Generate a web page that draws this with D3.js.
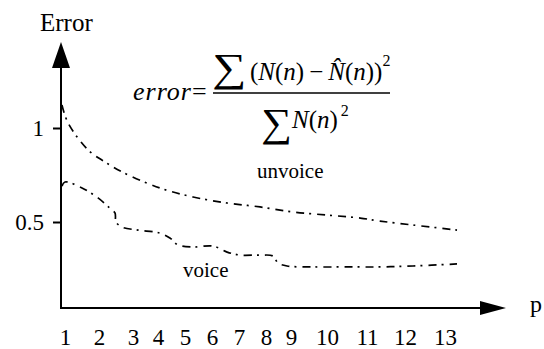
<!DOCTYPE html>
<html>
<head>
<meta charset="utf-8">
<script src="https://cdn.jsdelivr.net/npm/d3@7"></script>
<style>
  body { margin: 0; background: #fff; }
  svg { display: block; }
  svg text { font-family: "Liberation Serif", "Times New Roman", Times, "DejaVu Serif", serif; fill: #000; }
</style>
</head>
<body>
<svg width="544" height="349"></svg>
<script>
// tick labels on the p axis
const pTicks = [1, 2, 3, 4, 5, 6, 7, 8, 9, 10, 11, 12, 13];
const errTicks = [0.5, 1];

// unvoice curve
const unvoiceP   = [0.91, 1.09, 1.68, 2.18, 2.68, 4.07, 5.3, 6.56, 7.78, 9.06, 10.0, 10.83, 11.34, 12.2, 13.3];
const unvoiceErr = [1.122, 1.027, 0.883, 0.819, 0.766, 0.681, 0.633, 0.601, 0.58, 0.553, 0.537, 0.521, 0.505, 0.484, 0.457];

// voice curve
const voiceP   = [0.91, 1.0, 1.5, 1.97, 2.32, 2.47, 2.5, 2.68, 3.2, 4.07, 4.44, 4.74, 5.3, 6.04, 6.56, 7.04, 7.78, 8.28, 8.48, 8.84, 9.61, 10.5, 11.34, 12.2, 13.3];
const voiceErr = [0.691, 0.713, 0.681, 0.628, 0.574, 0.548, 0.5, 0.473, 0.457, 0.441, 0.415, 0.378, 0.367, 0.372, 0.34, 0.324, 0.324, 0.319, 0.282, 0.266, 0.261, 0.261, 0.261, 0.266, 0.277];

const svg = d3.select('svg');

// the hand drawn figure spaces its p labels unevenly
const tickPos = [65, 99, 133, 158, 185, 212, 239, 266, 291, 327, 367, 405, 445];
const xScale = d3.scaleLinear().domain(pTicks).range(tickPos);
const yScale = d3.scaleLinear().domain([0, 1]).range([316, 128]);

const originX = 61, originY = 308;

// curves
const line = d3.line()
  .x(d => xScale(d[0]))
  .y(d => yScale(d[1]))
  .curve(d3.curveCatmullRom.alpha(0.5));

const series = [
  d3.zip(unvoiceP, unvoiceErr),
  d3.zip(voiceP, voiceErr)
];

svg.selectAll('.curve').data(series)
  .enter().append('path')
    .attr('class', 'curve')
    .attr('d', line)
    .attr('fill', 'none')
    .attr('stroke', '#000')
    .attr('stroke-width', 1.7)
    .attr('stroke-dasharray', '8,5,2,6');

// y axis
const yAxisG = svg.append('g')
  .attr('transform', `translate(${originX},0)`)
  .call(d3.axisLeft(yScale)
    .tickValues(errTicks)
    .tickSize(8)
    .tickPadding(9)
    .tickFormat(d3.format('')));
yAxisG.select('.domain').remove();
yAxisG.selectAll('.tick line').attr('stroke', '#000').attr('stroke-width', 2);
yAxisG.selectAll('.tick text')
  .attr('font-size', 23)
  .attr('dy', '0.33em');

// x axis labels, no tick marks
const xAxisG = svg.append('g')
  .attr('transform', `translate(0,${originY})`)
  .call(d3.axisBottom(xScale).tickValues(pTicks).tickSize(0).tickPadding(21));
xAxisG.select('.domain').remove();
xAxisG.selectAll('.tick text')
  .attr('font-size', 23);

// axis lines with arrow heads
svg.append('line')
  .attr('x1', originX).attr('y1', originY + 1)
  .attr('x2', originX).attr('y2', 66)
  .attr('stroke', '#000').attr('stroke-width', 2);
svg.append('path')
  .attr('d', `M${originX},42 L${originX - 9},68 L${originX + 9},68 Z`)
  .attr('fill', '#000');

svg.append('line')
  .attr('x1', originX - 1).attr('y1', originY)
  .attr('x2', 482).attr('y2', originY)
  .attr('stroke', '#000').attr('stroke-width', 2);
svg.append('path')
  .attr('d', `M506,${originY} L480,${originY - 7} L480,${originY + 7} Z`)
  .attr('fill', '#000');

// axis titles
svg.append('text').attr('x', 40).attr('y', 31)
  .attr('font-size', 25).text('Error');
svg.append('text').attr('x', 530).attr('y', 312)
  .attr('font-size', 24).text('p');

// curve labels
svg.append('text').attr('x', 257).attr('y', 178)
  .attr('font-size', 21).text('unvoice');
svg.append('text').attr('x', 183).attr('y', 277)
  .attr('font-size', 21).text('voice');

// formula
const f = svg.append('g').attr('class', 'formula');
f.append('text').attr('x', 133).attr('y', 100)
  .attr('font-size', 26).attr('font-style', 'italic')
  .attr('letter-spacing', 1)
  .text('error');
f.append('text').attr('x', 192).attr('y', 100)
  .attr('font-size', 26).text('=');
f.append('line')
  .attr('x1', 213).attr('x2', 390).attr('y1', 93).attr('y2', 93)
  .attr('stroke', '#000').attr('stroke-width', 1.3);

// numerator
f.append('text').attr('x', 212).attr('y', 81)
  .attr('font-size', 40).attr('transform', 'translate(212,81) scale(1.2,1) translate(-212,-81)')
  .text('\u2211');
const num = f.append('text').attr('x', 250).attr('y', 80).attr('font-size', 25);
num.append('tspan').text('(');
num.append('tspan').attr('font-style', 'italic').text('N');
num.append('tspan').text('(');
num.append('tspan').attr('font-style', 'italic').text('n');
num.append('tspan').text(')\u2009\u2212\u2009');
num.append('tspan').attr('font-style', 'italic').text('N\u0302');
num.append('tspan').text('(');
num.append('tspan').attr('font-style', 'italic').text('n');
num.append('tspan').text('))');
num.append('tspan').attr('font-size', 16).attr('dy', -14).text('2');

// denominator
f.append('text').attr('x', 261).attr('y', 136)
  .attr('font-size', 40).attr('transform', 'translate(261,136) scale(1.08,1) translate(-261,-136)')
  .text('\u2211');
const den = f.append('text').attr('x', 292).attr('y', 128).attr('font-size', 25);
den.append('tspan').attr('font-style', 'italic').text('N');
den.append('tspan').text('(');
den.append('tspan').attr('font-style', 'italic').text('n');
den.append('tspan').text(')');
den.append('tspan').attr('font-size', 16).attr('dy', -12).attr('dx', 3).text('2');
</script>
</body>
</html>
